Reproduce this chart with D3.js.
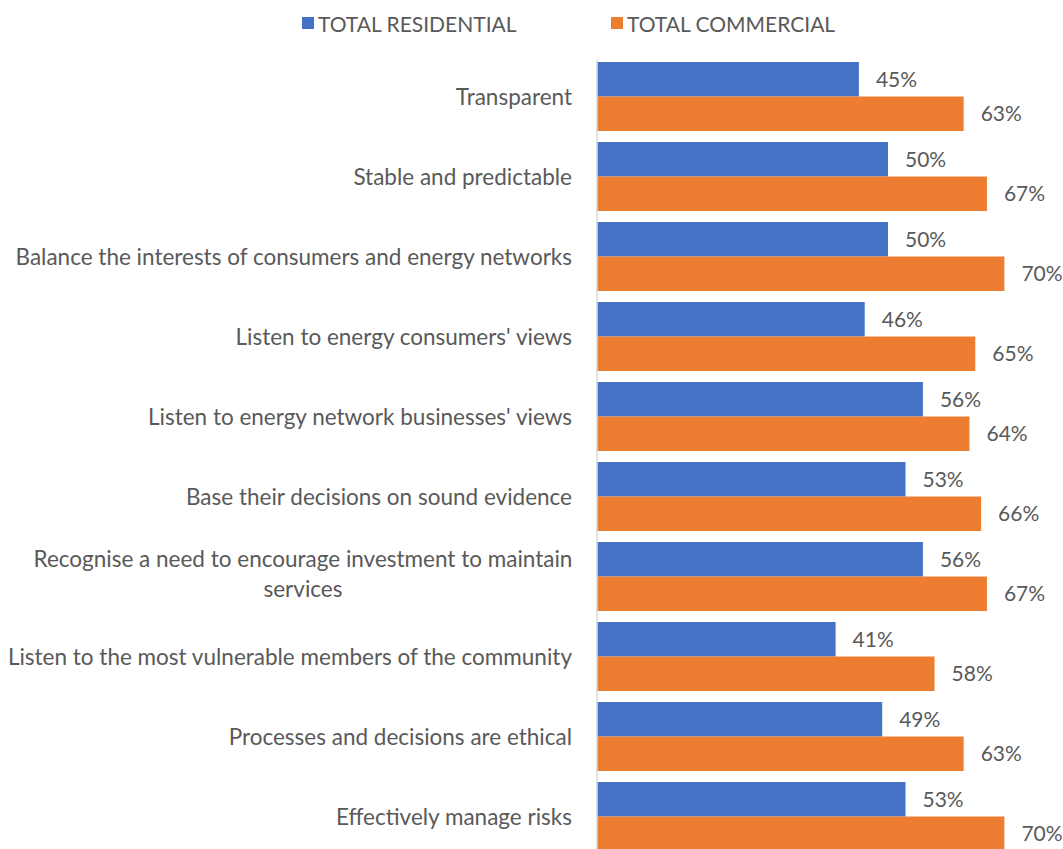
<!DOCTYPE html>
<html>
<head>
<meta charset="utf-8">
<script src="https://cdn.jsdelivr.net/npm/d3@7"></script>
<style>
  html, body { margin: 0; padding: 0; background: #fff; }
  svg { display: block; font-family: Lato, "Open Sans", sans-serif; }
</style>
</head>
<body>
<svg id="chart" width="1063" height="849"></svg>
<script>
// Categories, top to bottom ("|" marks a line break)
const categories = [
  "Transparent",
  "Stable and predictable",
  "Balance the interests of consumers and energy networks",
  "Listen to energy consumers' views",
  "Listen to energy network businesses' views",
  "Base their decisions on sound evidence",
  "Recognise a need to encourage investment to maintain|services",
  "Listen to the most vulnerable members of the community",
  "Processes and decisions are ethical",
  "Effectively manage risks"
];

const seriesNames = ["TOTAL RESIDENTIAL", "TOTAL COMMERCIAL"];
const residential = [45, 50, 50, 46, 56, 53, 56, 41, 49, 53];
const commercial  = [63, 67, 70, 65, 64, 66, 67, 58, 63, 70];
const colors = ["#4472C4", "#ED7D31"];

const textColor = "#595959";
const svg = d3.select("#chart");

// Layout
const plotLeft = 597;
const x = d3.scaleLinear().domain([0, 100]).range([plotLeft, plotLeft + 582]);
const y = d3.scaleBand().domain(categories).range([56.5, 856.5]).paddingInner(0.1375).paddingOuter(0.06875);
const sub = d3.scaleBand().domain([0, 1]).range([0, y.bandwidth()]);

const rows = categories.map((c, i) => ({ cat: c, vals: [residential[i], commercial[i]] }));

// Bars + value labels
const grp = svg.append("g");
rows.forEach(r => {
  r.vals.forEach((v, k) => {
    grp.append("rect")
      .attr("x", x(0))
      .attr("y", y(r.cat) + sub(k))
      .attr("width", x(v) - x(0))
      .attr("height", sub.bandwidth())
      .attr("fill", colors[k]);

    grp.append("text")
      .attr("x", x(v) + 17)
      .attr("y", y(r.cat) + sub(k) + sub.bandwidth() / 2)
      .attr("dy", "0.36em")
      .attr("fill", textColor)
      .style("font-size", "21px")
      .text(v + "%");
  });
});

// Axis line
svg.append("line")
  .attr("x1", plotLeft).attr("x2", plotLeft)
  .attr("y1", 60).attr("y2", 849)
  .attr("stroke", "#D9D9D9").attr("stroke-width", 1.5);

// Category labels
rows.forEach(r => {
  const lines = r.cat.split("|");
  const cy = y(r.cat) + y.bandwidth() / 2;
  const t = svg.append("text")
    .attr("fill", textColor)
    .style("font-size", "22.5px");
  if (lines.length === 1) {
    t.append("tspan")
      .attr("x", plotLeft - 25)
      .attr("y", cy)
      .attr("dy", "0.36em")
      .attr("text-anchor", "end")
      .text(lines[0]);
  } else {
    // two-line label: centred block, right edge at label column
    const w = 538;
    const lineH = 30;
    lines.forEach((ln, j) => {
      t.append("tspan")
        .attr("x", plotLeft - 25 - w / 2)
        .attr("y", cy - 3 - lineH / 2 + j * lineH)
        .attr("dy", "0.36em")
        .attr("text-anchor", "middle")
        .text(ln);
    });
  }
});

// Legend
const legendX = [302, 611];
seriesNames.forEach((n, k) => {
  svg.append("rect")
    .attr("x", legendX[k]).attr("y", 17)
    .attr("width", 12).attr("height", 12)
    .attr("fill", colors[k]);
  svg.append("text")
    .attr("x", legendX[k] + 16).attr("y", 24)
    .attr("dy", "0.36em")
    .attr("fill", textColor)
    .style("font-size", "21px")
    .text(n);
});
</script>
</body>
</html>
